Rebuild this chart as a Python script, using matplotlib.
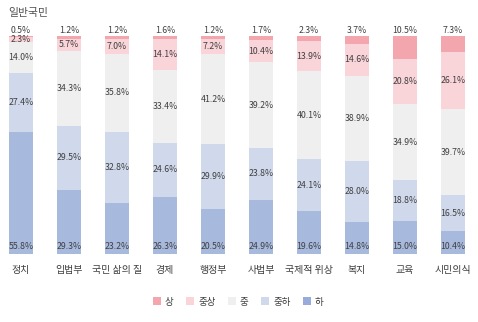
import matplotlib
matplotlib.use("Agg")
import matplotlib.pyplot as plt
from matplotlib.patches import Patch

plt.rcParams['font.family'] = ['Noto Sans CJK KR', 'DejaVu Sans']

categories = ["정치", "입법부", "국민 삶의 질", "경제", "행정부", "사법부", "국제적 위상", "복지", "교육", "시민의식"]
series_names = ["상", "중상", "중", "중하", "하"]
sang = [0.5, 1.2, 1.2, 1.6, 1.2, 1.7, 2.3, 3.7, 10.5, 7.3]
jungsang = [2.3, 5.7, 7.0, 14.1, 7.2, 10.4, 13.9, 14.6, 20.8, 26.1]
jung = [14.0, 34.3, 35.8, 33.4, 41.2, 39.2, 40.1, 38.9, 34.9, 39.7]
jungha = [27.4, 29.5, 32.8, 24.6, 29.9, 23.8, 24.1, 28.0, 18.8, 16.5]
ha = [55.8, 29.3, 23.2, 26.3, 20.5, 24.9, 19.6, 14.8, 15.0, 10.4]
colors = {"상": "#f4a6ae", "중상": "#f9d4d8", "중": "#efefef", "중하": "#d0d9ec", "하": "#a8b9de"}

fig = plt.figure(figsize=(4.78, 3.22), dpi=100)
ax = fig.add_axes([0, 1 - 254 / 322, 1, 218 / 322])
x = list(range(len(categories)))
w = 0.5
txt_color = "#404040"
fs = 6.3

# stack bottom-up: 하, 중하, 중, 중상, 상
stack = [("하", ha), ("중하", jungha), ("중", jung), ("중상", jungsang), ("상", sang)]
bottoms = [0.0] * len(categories)
for name, vals in stack:
    ax.bar(x, vals, width=w, bottom=bottoms, color=colors[name], linewidth=0)
    for i, v in enumerate(vals):
        if name == "하":
            ax.text(i, 1.5, f"{v:.1f}%", ha="center", va="bottom", fontsize=fs, color=txt_color)
        elif name == "상":
            ax.text(i, 100.3, f"{v:.1f}%", ha="center", va="bottom", fontsize=fs, color=txt_color)
        else:
            ax.text(i, bottoms[i] + v / 2, f"{v:.1f}%", ha="center", va="center", fontsize=fs, color=txt_color)
    bottoms = [b + v for b, v in zip(bottoms, vals)]

ax.set_xlim(-21 / 48, (478 - 21) / 48)
ax.set_ylim(0, 100)
ax.axis("off")
for i, c in enumerate(categories):
    ax.text(i, -7.5, c, ha="center", va="center", fontsize=7.2, color=txt_color)

fig.text(8 / 478, 1 - 13 / 322, "일반국민", ha="left", va="center", fontsize=7.8, color="#505050")

handles = [Patch(facecolor=colors[n], edgecolor="none") for n in series_names]
handles[-1] = Patch(facecolor="#98abdc", edgecolor="none")
fig.legend(handles, series_names, loc="center", bbox_to_anchor=(238 / 478, 1 - 302 / 322), ncol=5,
           frameon=False, fontsize=6.8, handlelength=0.85, handleheight=0.85, handletextpad=0.45,
           columnspacing=1.3, labelcolor=txt_color)

fig.savefig("out.png", dpi=100)
